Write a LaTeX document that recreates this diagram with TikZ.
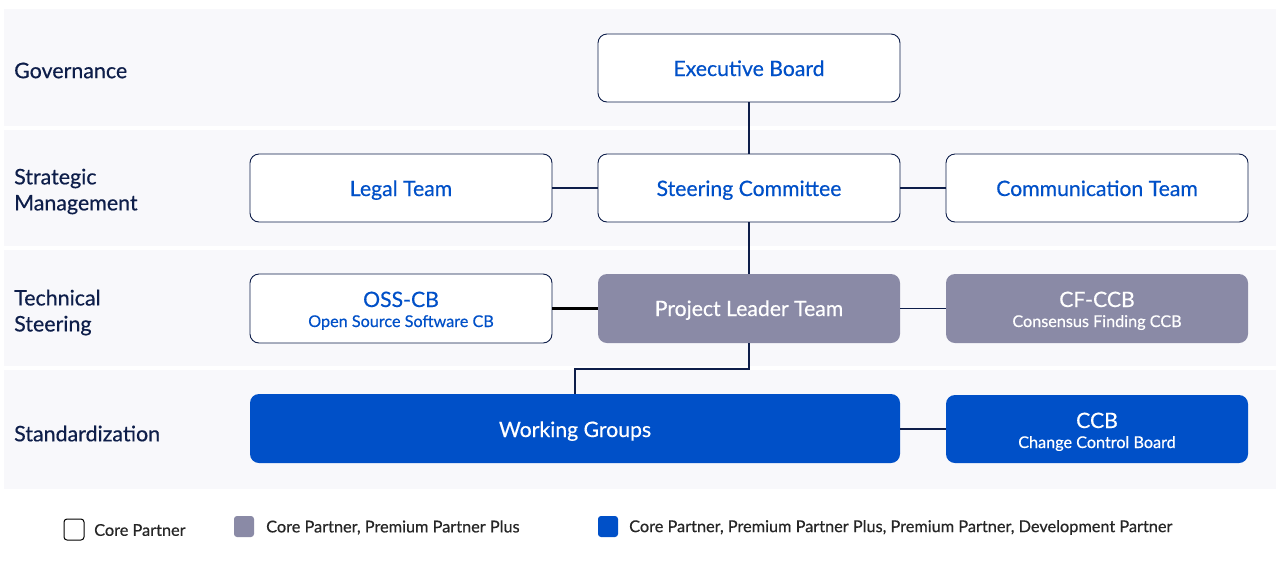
\documentclass[tikz,border=0pt]{standalone}
\usepackage{fontspec}
\setmainfont{Lato}
\newfontfamily\medf{Lato}[FakeBold=0.45]
\definecolor{band}{HTML}{F8F8FB}
\definecolor{navy}{HTML}{0E1E4A}
\definecolor{bluet}{HTML}{0050C8}
\definecolor{grayf}{HTML}{8A8AA6}
\newcommand\subsz{\fontsize{16.2}{19}\selectfont}
\begin{document}
\begin{tikzpicture}[x=1pt,y=-1pt,
  bandbox/.style={fill=band,draw=none},
  lbl/.style={anchor=west,text=navy,font=\medf\fontsize{21.4}{26}\selectfont,align=left,inner sep=0pt},
  wbox/.style={draw=navy,line width=0.9pt,fill=white,rounded corners=9pt,inner sep=0pt},
  gbox/.style={draw=none,fill=grayf,rounded corners=9pt,inner sep=0pt},
  bbox/.style={draw=none,fill=bluet,rounded corners=9pt,inner sep=0pt},
  conn/.style={draw=navy,line width=1.6pt},
  bt/.style={anchor=base,inner sep=0pt,font=\medf\fontsize{21.2}{24}\selectfont},
  st/.style={anchor=base,inner sep=0pt,font=\medf\subsz},
  leg/.style={anchor=west,text=black!85,font=\medf\fontsize{16.3}{18}\selectfont,inner sep=0pt}]
\useasboundingbox (0,0) rectangle (1280,566);
\fill[white] (0,0) rectangle (1280,566);
% bands
\fill[bandbox] (4,9) rectangle (1276,126);
\fill[bandbox] (4,130) rectangle (1276,246);
\fill[bandbox] (4,250) rectangle (1276,366);
\fill[bandbox] (4,370) rectangle (1276,489);
% labels
\node[lbl] (gov) at (14,70.5) {Governance};
\node[lbl] (strat) at (14,191.5) {Strategic\\Management};
\node[lbl] (tech) at (14,312.5) {Technical\\Steering};
\node[lbl] (std) at (14,433.5) {Standardization};
% boxes
\node[wbox,minimum width=302pt,minimum height=68pt] (exec) at (749,68) {};
\node[wbox,minimum width=302pt,minimum height=68pt] (legal) at (401,188) {};
\node[wbox,minimum width=302pt,minimum height=68pt] (steer) at (749,188) {};
\node[wbox,minimum width=302pt,minimum height=68pt] (comm) at (1097,188) {};
\node[wbox,minimum width=302pt,minimum height=69pt] (oss) at (401,308.5) {};
\node[gbox,minimum width=302pt,minimum height=69pt] (plt) at (749,308.5) {};
\node[gbox,minimum width=302pt,minimum height=69pt] (cf) at (1097,308.5) {};
\node[bbox,minimum width=650pt,minimum height=69pt] (wg) at (575,428.5) {};
\node[bbox,minimum width=302pt,minimum height=68pt] (ccb) at (1097,429) {};
% box texts
\node[bt,text=bluet] (exect) at (749,76) {Executive Board};
\node[bt,text=bluet] (legalt) at (401,196) {Legal Team};
\node[bt,text=bluet] (steert) at (749,196) {Steering Committee};
\node[bt,text=bluet] (commt) at (1097,196) {Communication Team};
\node[bt,text=bluet] (osst) at (401,307) {OSS-CB};
\node[st,text=bluet] (osss) at (401,327) {Open Source Software CB};
\node[bt,text=white] (pltt) at (749,316) {Project Leader Team};
\node[bt,text=white] (cft) at (1097,307) {CF-CCB};
\node[st,text=white] (cfs) at (1097,327) {Consensus Finding CCB};
\node[bt,text=white] (wgt) at (575,437) {Working Groups};
\node[bt,text=white] (ccbt) at (1097,428) {CCB};
\node[st,text=white] (ccbs) at (1097,448) {Change Control Board};
% connectors
\draw[conn] (exec.south) -- (steer.north);
\draw[conn] (steer.south) -- (plt.north);
\draw[conn] (legal.east) -- (steer.west);
\draw[conn] (steer.east) -- (comm.west);
\draw[conn,draw=black,line width=2.6pt] (oss.east) -- (plt.west);
\draw[conn] (plt.east) -- (cf.west);
\draw[conn] (plt.south) -- ++(0,26) -| (wg.north);
\draw[conn,line width=2.6pt] (wg.east |- ccb.west) -- (ccb.west);
% legend
\node[draw=black,line width=1pt,fill=white,rounded corners=3pt,minimum width=20pt,minimum height=21pt,inner sep=0pt] (l1) at (74,529.5) {};
\node[leg] (t1) at (94,530) {Core Partner};
\node[fill=grayf,rounded corners=3pt,minimum width=20pt,minimum height=21pt,inner sep=0pt] (l2) at (244,526.5) {};
\node[leg] (t2) at (266,527.5) {Core Partner, Premium Partner Plus};
\node[fill=bluet,rounded corners=3pt,minimum width=20pt,minimum height=21pt,inner sep=0pt] (l3) at (608,526.5) {};
\node[leg] (t3) at (629,527.5) {Core Partner, Premium Partner Plus, Premium Partner, Development Partner};
\end{tikzpicture}
\end{document}
